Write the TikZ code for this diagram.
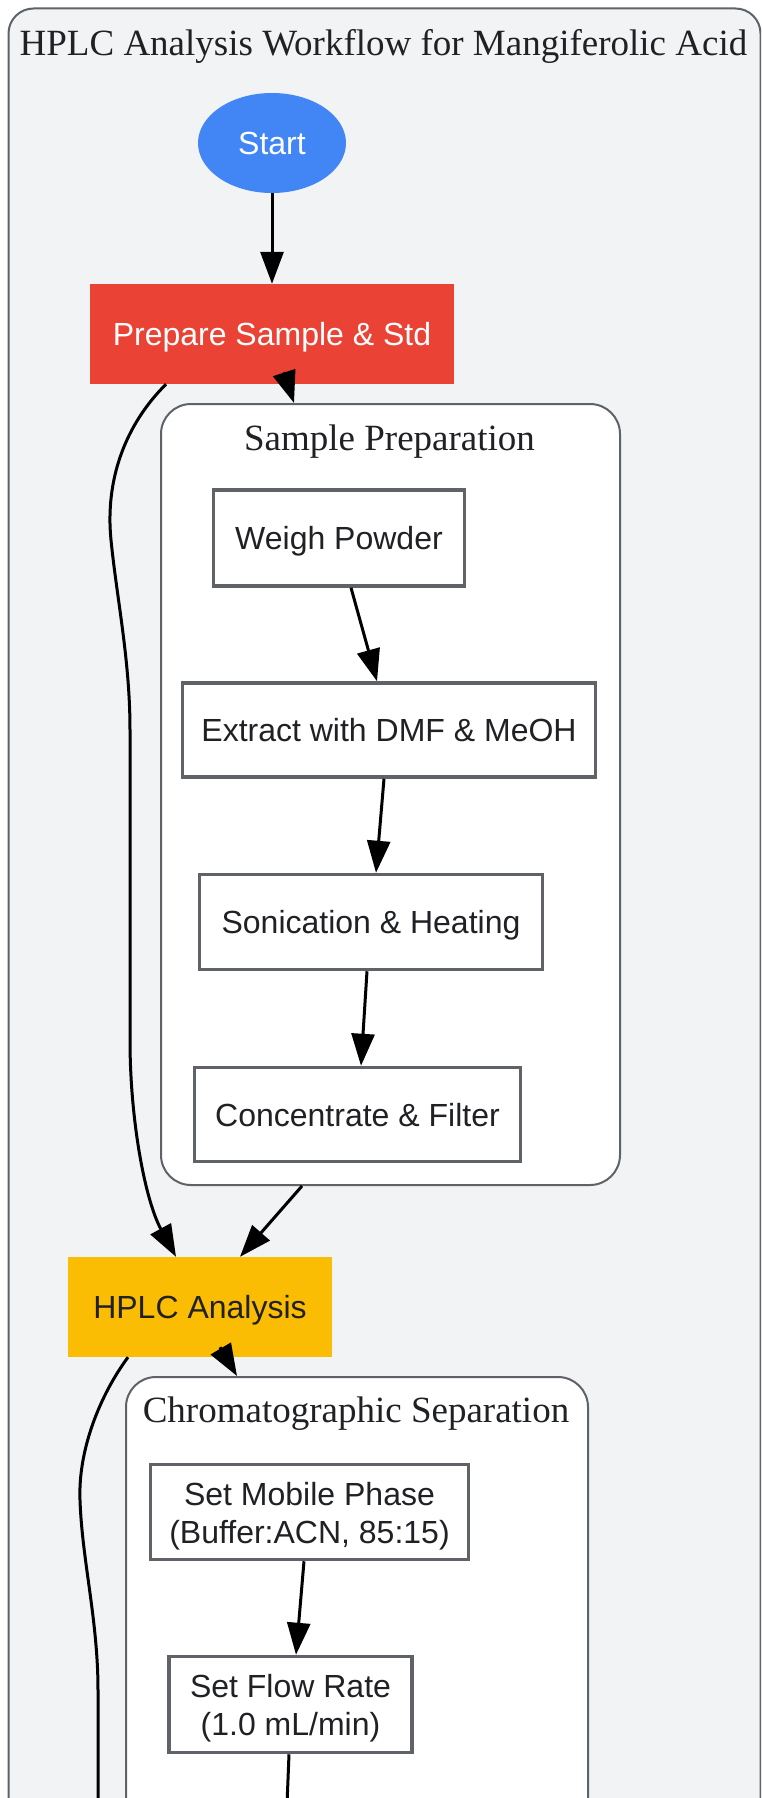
\documentclass[tikz,border=0pt]{standalone}
\usepackage{fontspec}
\setmainfont{Liberation Serif}
\setsansfont{Liberation Sans}
\usetikzlibrary{arrows.meta,shapes.geometric}
\definecolor{gblue}{HTML}{4285F4}
\definecolor{gred}{HTML}{EA4335}
\definecolor{gyellow}{HTML}{FBBC04}
\definecolor{ggray}{HTML}{5F6368}
\definecolor{gbg}{HTML}{F1F3F4}
\definecolor{gtext}{HTML}{202124}
\tikzset{
  cluster/.style={draw=ggray, line width=2pt, rounded corners=30pt, inner sep=0pt, anchor=north west},
  onel/.style={text height=23pt, text depth=0pt},
  twol/.style={text height=62pt, text depth=0pt},
  procbox/.style={draw=ggray, fill=white, line width=3.5pt, font=\fontsize{32}{38}\selectfont\sffamily, text=gtext, align=center, inner sep=0pt},
  keybox/.style={font=\fontsize{32}{38}\selectfont\sffamily, align=center, inner sep=0pt},
  flowarrow/.style={draw=black, line width=3pt, -{Triangle[length=32pt,width=23pt]}},
  plainline/.style={draw=black, line width=3pt},
  ctitle/.style={font=\fontsize{37}{44}\selectfont, text=gtext, anchor=base, inner sep=0pt},
}
\begin{document}
\begin{tikzpicture}[x=1pt,y=-1pt]
\useasboundingbox (0,0) rectangle (761,1798);
\clip (0,0) rectangle (761,1798);
\fill[white] (0,0) rectangle (761,1798);
% outer cluster
\node[cluster, fill=gbg, rounded corners=25pt, minimum width=752, minimum height=1950] (outer) at (7.5,7.5) {};
\node[ctitle] (outertitle) at (383.5,56) {HPLC Analysis Workflow for Mangiferolic Acid};
% sub clusters
\node[cluster, fill=white, minimum width=459, minimum height=781] (clSP) at (160,403) {};
\node[ctitle] (sptitle) at (389.5,450) {Sample Preparation};
\node[cluster, fill=white, minimum width=462, minimum height=600] (clCS) at (125,1376) {};
\node[ctitle] (cstitle) at (356,1422) {Chromatographic Separation};
% main nodes
\node[ellipse, fill=gblue, text=white, keybox, onel, minimum width=148, minimum height=100] (start) at (272,143) {Start};
\node[rectangle, fill=gred, text=white, keybox, onel, minimum width=364, minimum height=100] (prep) at (272,334) {Prepare Sample \& Std};
\node[rectangle, fill=gyellow, text=gtext, keybox, onel, minimum width=264, minimum height=100] (hplc) at (200,1307) {HPLC Analysis};
% sample preparation steps
\node[procbox, onel, minimum width=251, minimum height=96] (weigh) at (339,538) {Weigh Powder};
\node[procbox, onel, minimum width=413, minimum height=94] (extract) at (389,730) {Extract with DMF \& MeOH};
\node[procbox, onel, minimum width=343, minimum height=95] (sonic) at (371,922) {Sonication \& Heating};
\node[procbox, onel, minimum width=326, minimum height=94] (conc) at (357.5,1114.5) {Concentrate \& Filter};
% chromatographic steps
\node[procbox, twol, minimum width=318, minimum height=95] (mobile) at (309.5,1512) {Set Mobile Phase\\(Buffer:ACN, 85:15)};
\node[procbox, twol, minimum width=243, minimum height=96] (flowrate) at (290.5,1704.5) {Set Flow Rate\\(1.0 mL/min)};
\coordinate (nextA) at (286,1830);
\coordinate (nextB) at (98,1830);
% edges
\draw[flowarrow] (start.south) -- (prep.north);
\draw[flowarrow] ([xshift=12pt]weigh.south) -- ([xshift=-12pt]extract.north);
\draw[flowarrow] ([xshift=-5pt]extract.south) -- ([xshift=5pt]sonic.north);
\draw[flowarrow] ([xshift=-4pt]sonic.south) -- ([xshift=3.5pt]conc.north);
\draw[flowarrow] ([xshift=-5.5pt]mobile.south) -- ([xshift=5.5pt]flowrate.north);
\draw[plainline] ([xshift=-1.5pt]flowrate.south) -- (nextA);
\draw[flowarrow] ([xshift=12pt,yshift=12pt]prep.south) -- ([xshift=-96.5pt]clSP.north);
\draw[flowarrow] ([xshift=-88.5pt]clSP.south) -- ([xshift=40pt]hplc.north);
\draw[flowarrow] ([xshift=20pt,yshift=10pt]hplc.south) -- ([xshift=-120pt]clCS.north);
\draw[flowarrow] ([xshift=-106pt]prep.south) .. controls (125,425) and (105,480) .. (111,540)
   .. controls (117,600) and (130,660) .. (130,730) -- (130,1040)
   .. controls (130,1120) and (145,1200) .. ([xshift=-24pt]hplc.north);
\draw[plainline] ([xshift=-72pt]hplc.south) .. controls (100,1395) and (78,1450) .. (80,1500)
   .. controls (82,1560) and (98,1620) .. (98,1690) -- (nextB);
\end{tikzpicture}
\end{document}
